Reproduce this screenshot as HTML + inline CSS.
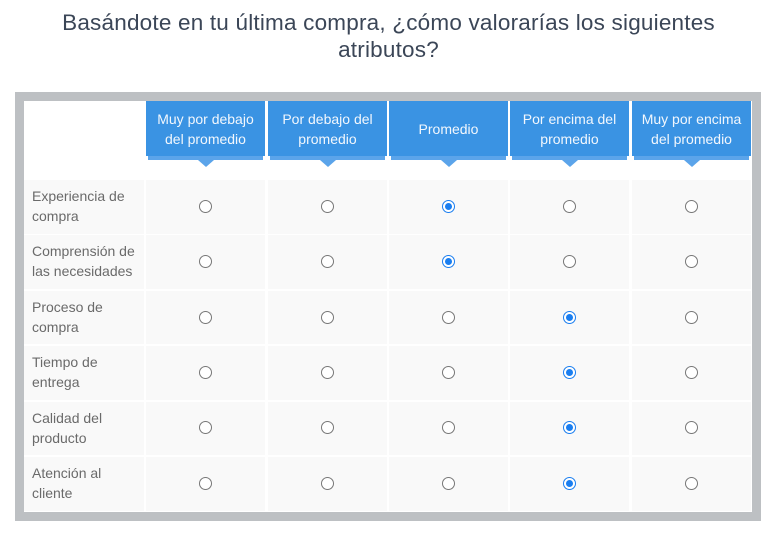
<!DOCTYPE html>
<html><head><meta charset="utf-8"><style>
body{margin:0;width:777px;height:538px;background:#fff;font-family:"Liberation Sans",sans-serif;position:relative;overflow:hidden}
.title{position:absolute;left:0;top:9px;width:777px;text-align:center;font-size:22.5px;line-height:27px;color:#3b4657;letter-spacing:0.2px}
.frame{position:absolute;left:15px;top:92px;width:746px;height:429px;background:#bdc0c3}
.inner{position:absolute;left:24px;top:101px;width:728px;height:411px;background:#fff}
.hd{position:absolute;top:101px;height:55px;background:#3a93e3;color:#f2f7fd;font-size:14px;line-height:20px;display:flex;align-items:center;justify-content:center;text-align:center}
.strip{position:absolute;top:156px;height:4px;background:#5ba4ea}
.tri{position:absolute;top:160px;width:0;height:0;border-left:8px solid transparent;border-right:8px solid transparent;border-top:7px solid #5ba4ea}
.cell{position:absolute;background:#f9f9f9}
.lbl{position:absolute;font-size:14px;line-height:20px;color:#6a6a6a}
.radio{position:absolute;width:11px;height:11px;border:1.3px solid #777;border-radius:50%;background:#fff}
.radio.on{border-color:#1a7ef0}
.radio.on::after{content:"";position:absolute;left:2px;top:2px;width:7px;height:7px;border-radius:50%;background:#1a7ef0}
</style></head><body>
<div class="title">Basándote en tu última compra, ¿cómo valorarías los siguientes<br>atributos?</div>
<div class="frame"></div>
<div class="inner"></div>
<div id="m"></div>
<script>
const columns=["Muy por debajo<br>del promedio","Por debajo del<br>promedio","Promedio","Por encima del<br>promedio","Muy por encima<br>del promedio"];
const rowLabels=["Experiencia de<br>compra","Comprensión de<br>las necesidades","Proceso de<br>compra","Tiempo de<br>entrega","Calidad del<br>producto","Atención al<br>cliente"];
const selected=[2,2,3,3,3,3];
const m=document.getElementById('m');
const colX=[146,268,389,510,632],colW=119;
const rowY=i=>180+i*55.4, rowH=53.5;
columns.forEach((c,j)=>{
  const h=document.createElement('div');h.className='hd';h.style.left=colX[j]+'px';h.style.width=colW+'px';h.innerHTML=c;
  
  
  m.appendChild(h);
  const s=document.createElement('div');s.className='strip';s.style.left=(colX[j]+2)+'px';s.style.width=(colW-4)+'px';
  
  
  m.appendChild(s);
  const t=document.createElement('div');t.className='tri';t.style.left=(colX[j]+colW/2-8)+'px';
  
  
  m.appendChild(t);
});
rowLabels.forEach((r,i)=>{
  const y=rowY(i);
  const lc=document.createElement('div');lc.className='cell';lc.style.left='24px';lc.style.top=y+'px';lc.style.width='120px';lc.style.height=rowH+'px';
  
  
  m.appendChild(lc);
  const l=document.createElement('div');l.className='lbl';l.style.left='32px';l.style.top=(y+6)+'px';l.innerHTML=r;
  
  
  m.appendChild(l);
  colX.forEach((x,j)=>{
    const c=document.createElement('div');c.className='cell';c.style.left=x+'px';c.style.top=y+'px';c.style.width=colW+'px';c.style.height=rowH+'px';
    
    
    m.appendChild(c);
    const rd=document.createElement('div');rd.className='radio'+(selected[i]===j?' on':'');
    rd.style.left=(x+colW/2-7)+'px';rd.style.top=(y+rowH/2-7)+'px';
    
    
    m.appendChild(rd);
  });
});
</script>
</body></html>
